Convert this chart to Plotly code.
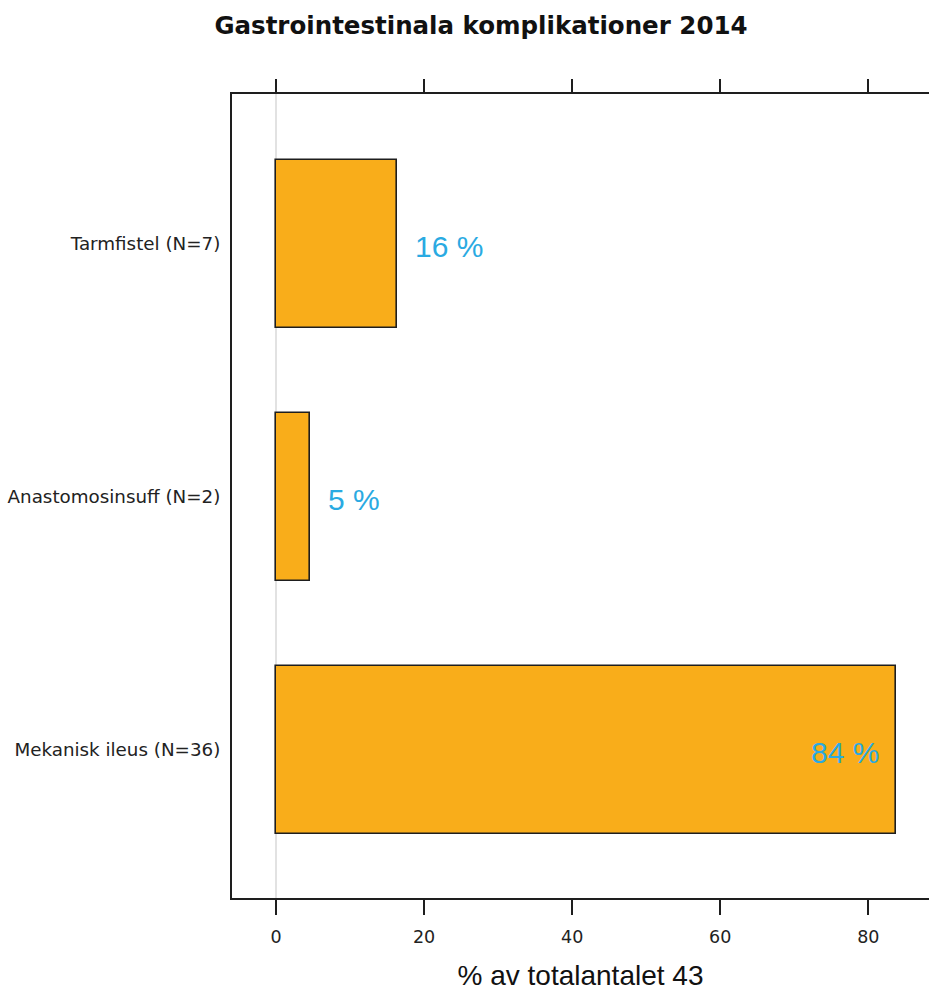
import plotly.graph_objects as go

# Complication counts in 2014 (bottom to top as drawn)
categories = ["Mekanisk ileus", "Anastomosinsuff", "Tarmfistel"]
counts = [36, 2, 7]
total = 43
tick_values = [0, 20, 40, 60, 80]
tick_labels = ["0", "20", "40", "60", "80"]

percent = [c / total * 100 for c in counts]
cat_labels = [f"{name} (N={n})" for name, n in zip(categories, counts)]

BAR_COLOR = "#F9AD1A"
LABEL_COLOR = "#2AAAE2"
LINE_COLOR = "#1e1e1e"

fig = go.Figure()
fig.add_trace(go.Bar(
    x=percent,
    y=cat_labels,
    orientation="h",
    width=0.665,
    marker=dict(color=BAR_COLOR, line=dict(color=LINE_COLOR, width=1.6)),
    hoverinfo="x+y",
))
# invisible companion trace so the top axis (ticks only) is drawn
fig.add_trace(go.Scatter(
    x=percent, y=cat_labels, xaxis="x2", mode="markers",
    marker=dict(opacity=0), hoverinfo="skip", showlegend=False,
))

# percentage labels: outside the bar end, or inside for long bars
for v, lab in zip(percent, cat_labels):
    inside = v > 50
    fig.add_annotation(
        x=v, y=lab, xref="x", yref="y",
        text=f"{round(v)} %",
        showarrow=False,
        xanchor="right" if inside else "left",
        xshift=-15 if inside else 16,
        yshift=-2,
        font=dict(family="Liberation Sans, Arial, sans-serif", size=30, color=LABEL_COLOR),
    )

axis_range = [-5.95, 88.2]
fig.update_layout(
    width=929, height=991,
    margin=dict(l=232, r=0, t=94, b=93),
    paper_bgcolor="white", plot_bgcolor="white",
    showlegend=False,
    bargap=0,
    title=dict(
        text="<b>Gastrointestinala komplikationer 2014</b>",
        x=481 / 929, xref="container", xanchor="center",
        y=1 - 25 / 991, yref="container", yanchor="middle",
        font=dict(family="DejaVu Sans, sans-serif", size=24.5, color="#111111"),
    ),
    xaxis=dict(
        range=axis_range,
        tickvals=tick_values, ticktext=tick_labels,
        ticks="outside", ticklen=15, tickwidth=2, tickcolor=LINE_COLOR,
        ticklabelstandoff=7,
        showline=True, linecolor=LINE_COLOR, linewidth=2,
        showgrid=False,
        zeroline=True, zerolinecolor="#e2e2e2", zerolinewidth=1.5,
        tickfont=dict(family="DejaVu Sans, sans-serif", size=17.5, color="#222222"),
        title=dict(
            text="% av totalantalet 43",
            font=dict(family="Liberation Sans, Arial, sans-serif", size=28, color="#111111"),
            standoff=19,
        ),
    ),
    xaxis2=dict(
        range=axis_range, overlaying="x", side="top",
        tickvals=tick_values, showticklabels=False,
        ticks="outside", ticklen=13, tickwidth=2, tickcolor=LINE_COLOR,
        showline=True, linecolor=LINE_COLOR, linewidth=2,
        showgrid=False, zeroline=False,
    ),
    yaxis=dict(
        type="category",
        categoryorder="array", categoryarray=cat_labels,
        range=[-0.585, 2.593],
        showline=True, linecolor=LINE_COLOR, linewidth=2,
        showgrid=False, zeroline=False,
        ticks="", ticklabelstandoff=6,
        tickfont=dict(family="DejaVu Sans, sans-serif", size=18.3, color="#222222"),
    ),
)

fig.write_html("out.html")
